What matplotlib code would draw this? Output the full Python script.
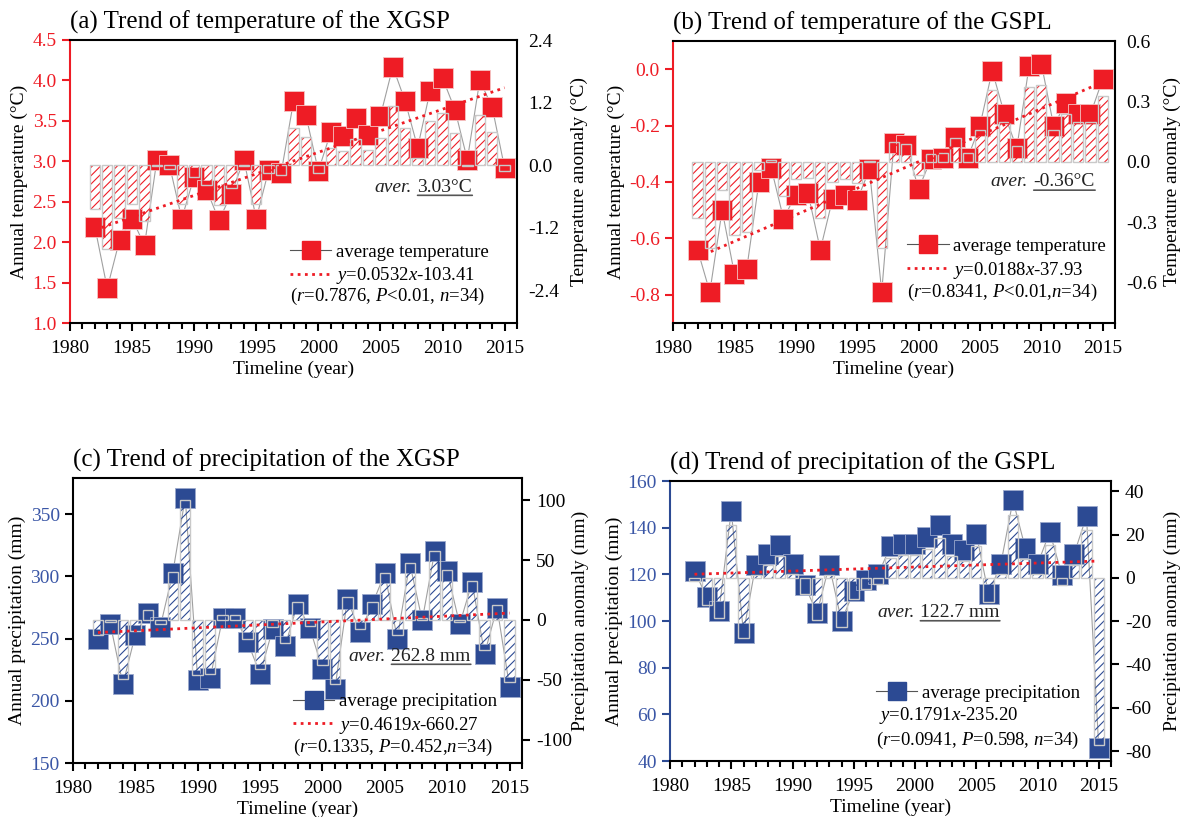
import numpy as np
import matplotlib
matplotlib.use("Agg")
import matplotlib.pyplot as plt
from matplotlib.lines import Line2D
from matplotlib.ticker import MultipleLocator, FormatStrFormatter

plt.rcParams['font.family'] = ['Liberation Serif', 'DejaVu Serif']
plt.rcParams['mathtext.fontset'] = 'custom'
plt.rcParams['mathtext.rm'] = 'Liberation Serif'
plt.rcParams['mathtext.it'] = 'Liberation Serif:italic'
plt.rcParams['hatch.linewidth'] = 0.8
plt.rcParams['axes.linewidth'] = 1.5

years = [1982, 1983, 1984, 1985, 1986, 1987, 1988, 1989, 1990, 1991, 1992,
         1993, 1994, 1995, 1996, 1997, 1998, 1999, 2000, 2001, 2002, 2003,
         2004, 2005, 2006, 2007, 2008, 2009, 2010, 2011, 2012, 2013, 2014, 2015]

# annual mean temperature (degC)
temp_xgsp = [2.19, 1.43, 2.03, 2.29, 1.96, 3.02, 2.96, 2.29, 2.81, 2.65, 2.27,
             2.60, 3.02, 2.29, 2.89, 2.85, 3.74, 3.57, 2.88, 3.36, 3.31, 3.53,
             3.32, 3.56, 4.17, 3.74, 3.17, 3.87, 4.03, 3.64, 3.02, 4.00, 3.67, 2.92]
temp_gspl = [-0.64, -0.79, -0.50, -0.725, -0.71, -0.40, -0.35, -0.53, -0.445, -0.44, -0.64,
             -0.46, -0.445, -0.465, -0.355, -0.79, -0.26, -0.27, -0.425, -0.32, -0.315, -0.24,
             -0.315, -0.20, -0.005, -0.16, -0.28, 0.01, 0.02, -0.20, -0.12, -0.16, -0.16, -0.035]

# annual precipitation (mm)
prec_xgsp = [250.0, 261.4, 213.2, 253.2, 270.8, 259.5, 302.7, 363.2, 216.8, 218.1, 266.8,
             266.8, 247.3, 221.6, 257.3, 243.8, 277.6, 258.1, 225.4, 209.5, 281.9, 255.1,
             277.6, 302.4, 250.0, 310.5, 264.6, 320.0, 304.1, 261.4, 295.1, 237.8, 274.9, 211.4]
prec_gspl = [121.4, 110.3, 104.3, 147.1, 95.0, 124.1, 128.9, 132.7, 124.3, 115.3, 103.4,
             123.9, 99.9, 112.9, 117.7, 120.0, 132.1, 133.1, 133.1, 136.0, 141.0, 132.9,
             130.3, 137.4, 111.7, 124.3, 151.7, 131.3, 124.3, 138.1, 119.6, 128.9, 144.9, 45.7]

aver_values = [3.03, -0.36, 262.8, 122.7]

RED = '#ee1c25'
BLUE = '#2c4a93'
BLUE_TXT = '#3a56a6'

W, H = 1184, 817
fig = plt.figure(figsize=(W / 100, H / 100), dpi=100)


def panel(box, title, values, aver, color, lab_color, spine_color, tick_color,
          ylim, ystep, yfmt, rlim, rticks, rfmt, rticklen, rpad,
          ylabel, rlabel, leg_label, eq_text, eq_handle, stat_text,
          aver_text, leg_xy, eq_xy, stat_xy, aver_xy):
    l, t, r, b = box
    ax = fig.add_axes([l / W, 1 - b / H, (r - l) / W, (b - t) / H])
    ax2 = ax.twinx()

    # series line + markers (left axis)
    ax.plot(years, values, color='#a0a0a0', lw=0.8, zorder=2)
    ax.plot(years, values, ls='none', marker='s', ms=14, mfc=color,
            mec='#f4c4c4' if color == RED else '#9aa8cc', mew=0.6, zorder=3)

    # anomaly bars (right axis), drawn over the markers
    anom = np.array(values) - aver
    ax2.bar(years, anom, width=0.84, facecolor='none', edgecolor=color,
            linewidth=0, hatch='////', zorder=2)
    ax2.bar(years, anom, width=0.84, facecolor='none', edgecolor='#c9c9c9',
            linewidth=1.0, zorder=3)

    # linear trend
    coef = np.polyfit(years, values, 1)
    ax2.plot(years, np.polyval(coef, years), transform=ax.transData,
             color=RED, ls=(0, (1, 1.6)), lw=2.0, zorder=4)

    ax.set_xlim(1980, 2016)
    ax.set_ylim(*ylim)
    ax.yaxis.set_major_locator(MultipleLocator(ystep))
    ax.yaxis.set_major_formatter(FormatStrFormatter(yfmt))
    ax.xaxis.set_major_locator(MultipleLocator(5))
    ax.xaxis.set_minor_locator(MultipleLocator(1))
    ax.xaxis.set_major_formatter(FormatStrFormatter('%d'))
    ax.tick_params(axis='x', which='major', direction='out', length=6, width=1.5,
                   labelsize=14, pad=6, top=False)
    ax.tick_params(axis='x', which='minor', direction='out', length=4, width=1.5, top=False)
    ax.tick_params(axis='y', direction='out', length=6, width=1.5, labelsize=14,
                   colors=tick_color, labelcolor=lab_color, right=False)
    ax.spines['left'].set_color(spine_color)
    ax.spines['right'].set_visible(False)

    ax2.set_ylim(*rlim)
    ax2.set_yticks(rticks)
    ax2.yaxis.set_major_formatter(FormatStrFormatter(rfmt))
    ax2.tick_params(axis='y', direction='out', length=rticklen, width=1.5,
                    labelsize=14, pad=8 if rticklen == 0 else 4)
    for s in ['left', 'top', 'bottom']:
        ax2.spines[s].set_visible(False)

    ax.set_title(title, loc='left', fontsize=18, pad=8)
    ax.set_xlabel('Timeline (year)', fontsize=14, labelpad=3)
    ax.set_ylabel(ylabel, fontsize=14, labelpad=3)
    ax2.set_ylabel(rlabel, fontsize=14, labelpad=rpad)

    # legend
    handles = [Line2D([], [], color='#555555', lw=0.8, marker='s', ms=13,
                      mfc=color, mec=color)]
    labels = [leg_label]
    if eq_handle:
        handles.append(Line2D([], [], color=RED, ls=(0, (1, 1.6)), lw=2.0))
        labels.append(eq_text)
    ax.legend(handles, labels, loc='upper left', bbox_to_anchor=leg_xy,
              frameon=False, fontsize=13.5, borderpad=0, handlelength=2.2,
              handletextpad=0.25, labelspacing=0.25, borderaxespad=0)
    if not eq_handle:
        ax.text(eq_xy[0], eq_xy[1], eq_text, transform=ax.transAxes,
                fontsize=13.5, va='center', ha='left')
    ax.text(stat_xy[0], stat_xy[1], stat_text, transform=ax.transAxes,
            fontsize=13.5, va='center', ha='left')

    # average annotation with underline
    val = ax.text(aver_xy[0], aver_xy[1], aver_text, transform=ax.transAxes,
                  fontsize=14, va='center', ha='right', color='#222222')
    ax.annotate('aver.', xy=(0, 0.5), xycoords=val, xytext=(-4, 0),
                textcoords='offset points', ha='right', va='center',
                fontsize=14, style='italic', color='#222222')
    ax.annotate('', xy=(1, 0.02), xycoords=val, xytext=(0, 0.02), textcoords=val,
                arrowprops=dict(arrowstyle='-', lw=1.2, color='#555555',
                                shrinkA=0, shrinkB=0))
    return ax, ax2


panel((70, 40, 517, 323), '(a) Trend of temperature of the XGSP', temp_xgsp,
      aver_values[0], RED, RED, RED, RED,
      (1.0, 4.5), 0.5, '%.1f', (-3.02, 2.4), [-2.4, -1.2, 0.0, 1.2, 2.4], '%.1f', 0, 8,
      'Annual temperature (°C)', 'Temperature anomaly (°C)',
      'average temperature', '$y$=0.0532$x$-103.41', True,
      '($r$=0.7876, $P$<0.01, $n$=34)', '3.03°C',
      (0.492, 0.281), None, (0.492, 0.095), (0.90, 0.48))

panel((673, 41, 1115, 323), '(b) Trend of temperature of the GSPL', temp_gspl,
      aver_values[1], RED, RED, RED, RED,
      (-0.9, 0.1), 0.2, '%.1f', (-0.8, 0.6), [-0.6, -0.3, 0.0, 0.3, 0.6], '%.1f', 0, 5,
      'Annual temperature (°C)', 'Temperature anomaly (°C)',
      'average temperature', '$y$=0.0188$x$-37.93', True,
      '($r$=0.8341, $P$<0.01,$n$=34)', '-0.36°C',
      (0.53, 0.302), None, (0.53, 0.11), (0.955, 0.50))

panel((73, 478, 522, 763), '(c) Trend of precipitation of the XGSP', prec_xgsp,
      aver_values[2], BLUE, BLUE_TXT, 'black', 'black',
      (150, 379), 50, '%d', (-119.4, 118.5), [-100, -50, 0, 50, 100], '%d', 6, 0,
      'Annual precipitation (mm)', 'Precipitation anomaly (mm)',
      'average precipitation', '$y$=0.4619$x$-660.27', True,
      '($r$=0.1335, $P$=0.452,$n$=34)', '262.8 mm',
      (0.49, 0.245), None, (0.49, 0.056), (0.886, 0.375))

panel((670, 481, 1111, 761), '(d) Trend of precipitation of the GSPL', prec_gspl,
      aver_values[3], BLUE, BLUE_TXT, BLUE, BLUE,
      (40, 160), 20, '%d', (-84.6, 44.8), [-80, -60, -40, -20, 0, 20, 40], '%d', 6, 9,
      'Annual precipitation (mm)', 'Precipitation anomaly (mm)',
      'average precipitation', '$y$=0.1791$x$-235.20', False,
      '($r$=0.0941, $P$=0.598, $n$=34)', '122.7 mm',
      (0.467, 0.273), (0.474, 0.164), (0.467, 0.075), (0.748, 0.53))

fig.savefig('out.png', dpi=100)
